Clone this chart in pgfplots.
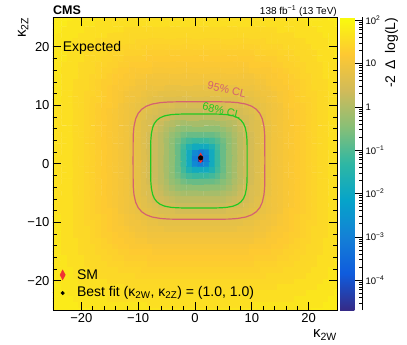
\documentclass[border=0pt]{standalone}
\usepackage{fontspec}
\setmainfont{Liberation Sans}
\usepackage{pgfplots}
\pgfplotsset{compat=1.18}
\definecolor{clred}{RGB}{212,98,112}
\definecolor{clgreen}{RGB}{34,200,34}
\definecolor{smred}{RGB}{240,50,50}
\pgfplotsset{colormap={bird}{rgb=(0.2082,0.1664,0.5293) rgb=(0.0592,0.3599,0.8684) rgb=(0.0780,0.5041,0.8385) rgb=(0.0232,0.6419,0.7914) rgb=(0.1802,0.7178,0.6425) rgb=(0.5301,0.7492,0.4662) rgb=(0.8186,0.7328,0.3499) rgb=(0.9956,0.7862,0.1968) rgb=(0.9764,0.9832,0.0539)}}
\begin{document}
\begin{tikzpicture}
\useasboundingbox (-53pt,-35pt) rectangle (354pt,310pt);
\begin{axis}[
  at={(0pt,0pt)}, anchor=south west,
  scale only axis, width=284pt, height=292.5pt,
  xmin=-25, xmax=25, ymin=-25, ymax=25,
  clip mode=individual,
  colormap name=bird,
  point meta min=-4.69, point meta max=2.06,
  xtick={-20,-10,0,10,20}, xticklabels={−20,−10,0,10,20},
  ytick={-20,-10,0,10,20}, yticklabels={−20,−10,0,10,20},
  minor x tick num=4, minor y tick num=4,
  tick align=inside, tick pos=both,
  xticklabel pos=lower, yticklabel pos=left,
  major tick length=8pt, minor tick length=4pt,
  every tick/.style={black, line width=0.6pt},
  axis line style={black, line width=0.8pt},
  tick label style={font=\fontsize{13}{13}\selectfont},
  axis on top,
  colorbar,
  colorbar style={
    at={(parent axis.north east)}, anchor=north west, xshift=-5.5pt,
    scale only axis, width=22pt, height=292.5pt,
    axis x line=none, axis y line*=right,
    ytick={-4,-3,-2,-1,0,1,2},
    yticklabels={10\textsuperscript{−4},10\textsuperscript{−3},10\textsuperscript{−2},10\textsuperscript{−1},1,10,10\textsuperscript{2}},
    minor ytick={-4.523,-4.398,-4.301,-4.222,-4.155,-4.097,-4.046,-3.699,-3.523,-3.398,-3.301,-3.222,-3.155,-3.097,-3.046,-2.699,-2.523,-2.398,-2.301,-2.222,-2.155,-2.097,-2.046,-1.699,-1.523,-1.398,-1.301,-1.222,-1.155,-1.097,-1.046,-0.699,-0.523,-0.398,-0.301,-0.222,-0.155,-0.097,-0.046,0.301,0.477,0.602,0.699,0.778,0.845,0.903,0.954,1.301,1.477,1.602,1.699,1.778,1.845,1.903,1.954},
    tick align=inside, major tick length=7pt, minor tick length=3.5pt,
    every tick/.style={black, line width=0.5pt},
    yticklabel style={font=\fontsize{9.5}{10}\selectfont},
    axis line style={black, line width=0.6pt},
  },
]
\addplot[matrix plot*, mesh/cols=51, point meta=explicit, shader=flat corner]
 table[row sep=\\, meta=c, x expr={mod(\coordindex,51)-25}, y expr={floor(\coordindex/51)-25}] {
c\\
1.8\\1.8\\1.8\\1.8\\1.8\\1.8\\1.8\\1.7\\1.7\\1.7\\ 1.7\\1.7\\1.7\\1.7\\1.7\\1.7\\1.7\\1.7\\1.7\\1.7\\ 1.7\\1.7\\1.7\\1.7\\1.7\\1.7\\1.7\\1.7\\1.7\\1.7\\ 1.7\\1.7\\1.7\\1.7\\1.7\\1.7\\1.7\\1.7\\1.7\\1.7\\ 1.7\\1.7\\1.7\\1.7\\1.7\\1.7\\1.8\\1.8\\1.8\\1.8\\ 1.8\\
1.8\\1.8\\1.8\\1.8\\1.8\\1.7\\1.7\\1.7\\1.7\\1.7\\ 1.7\\1.7\\1.7\\1.7\\1.7\\1.7\\1.7\\1.6\\1.6\\1.6\\ 1.6\\1.6\\1.6\\1.6\\1.6\\1.6\\1.6\\1.6\\1.6\\1.6\\ 1.6\\1.6\\1.6\\1.6\\1.6\\1.6\\1.7\\1.7\\1.7\\1.7\\ 1.7\\1.7\\1.7\\1.7\\1.7\\1.7\\1.7\\1.7\\1.8\\1.8\\ 1.8\\
1.8\\1.8\\1.8\\1.8\\1.7\\1.7\\1.7\\1.7\\1.7\\1.7\\ 1.6\\1.6\\1.6\\1.6\\1.6\\1.6\\1.6\\1.6\\1.6\\1.6\\ 1.6\\1.6\\1.6\\1.6\\1.6\\1.6\\1.6\\1.6\\1.6\\1.6\\ 1.6\\1.6\\1.6\\1.6\\1.6\\1.6\\1.6\\1.6\\1.6\\1.6\\ 1.6\\1.6\\1.6\\1.7\\1.7\\1.7\\1.7\\1.7\\1.7\\1.8\\ 1.8\\
1.8\\1.8\\1.8\\1.7\\1.7\\1.7\\1.7\\1.7\\1.6\\1.6\\ 1.6\\1.6\\1.6\\1.6\\1.6\\1.6\\1.6\\1.6\\1.6\\1.6\\ 1.6\\1.6\\1.6\\1.6\\1.6\\1.6\\1.6\\1.6\\1.6\\1.6\\ 1.6\\1.6\\1.6\\1.6\\1.6\\1.6\\1.6\\1.6\\1.6\\1.6\\ 1.6\\1.6\\1.6\\1.6\\1.6\\1.7\\1.7\\1.7\\1.7\\1.7\\ 1.8\\
1.8\\1.8\\1.7\\1.7\\1.7\\1.7\\1.6\\1.6\\1.6\\1.6\\ 1.6\\1.6\\1.6\\1.5\\1.5\\1.5\\1.5\\1.5\\1.5\\1.5\\ 1.5\\1.5\\1.5\\1.5\\1.5\\1.5\\1.5\\1.5\\1.5\\1.5\\ 1.5\\1.5\\1.5\\1.5\\1.5\\1.5\\1.5\\1.5\\1.5\\1.5\\ 1.6\\1.6\\1.6\\1.6\\1.6\\1.6\\1.6\\1.7\\1.7\\1.7\\ 1.7\\
1.8\\1.7\\1.7\\1.7\\1.7\\1.6\\1.6\\1.6\\1.6\\1.6\\ 1.5\\1.5\\1.5\\1.48\\1.48\\1.48\\1.48\\1.48\\1.48\\1.48\\ 1.48\\1.48\\1.48\\1.48\\1.48\\1.48\\1.48\\1.48\\1.48\\1.48\\ 1.48\\1.48\\1.48\\1.48\\1.48\\1.48\\1.48\\1.48\\1.48\\1.48\\ 1.5\\1.5\\1.5\\1.6\\1.6\\1.6\\1.6\\1.6\\1.7\\1.7\\ 1.7\\
1.8\\1.7\\1.7\\1.7\\1.6\\1.6\\1.6\\1.6\\1.5\\1.5\\ 1.48\\1.48\\1.48\\1.48\\1.48\\1.42\\1.42\\1.42\\1.42\\1.42\\ 1.42\\1.42\\1.42\\1.42\\1.42\\1.42\\1.42\\1.42\\1.42\\1.42\\ 1.42\\1.42\\1.42\\1.42\\1.42\\1.42\\1.42\\1.42\\1.48\\1.48\\ 1.48\\1.48\\1.48\\1.5\\1.5\\1.6\\1.6\\1.6\\1.6\\1.7\\ 1.7\\
1.7\\1.7\\1.7\\1.7\\1.6\\1.6\\1.6\\1.5\\1.5\\1.48\\ 1.48\\1.48\\1.42\\1.42\\1.42\\1.42\\1.37\\1.37\\1.37\\1.37\\ 1.37\\1.37\\1.37\\1.37\\1.37\\1.37\\1.37\\1.37\\1.37\\1.37\\ 1.37\\1.37\\1.37\\1.37\\1.37\\1.37\\1.37\\1.42\\1.42\\1.42\\ 1.42\\1.48\\1.48\\1.48\\1.5\\1.5\\1.6\\1.6\\1.6\\1.7\\ 1.7\\
1.7\\1.7\\1.7\\1.6\\1.6\\1.6\\1.5\\1.5\\1.48\\1.48\\ 1.42\\1.42\\1.42\\1.37\\1.37\\1.37\\1.37\\1.3\\1.3\\1.3\\ 1.3\\1.3\\1.3\\1.3\\1.3\\1.3\\1.3\\1.3\\1.3\\1.3\\ 1.3\\1.3\\1.3\\1.3\\1.3\\1.3\\1.37\\1.37\\1.37\\1.37\\ 1.42\\1.42\\1.42\\1.48\\1.48\\1.5\\1.5\\1.6\\1.6\\1.6\\ 1.7\\
1.7\\1.7\\1.7\\1.6\\1.6\\1.6\\1.5\\1.48\\1.48\\1.42\\ 1.42\\1.37\\1.37\\1.3\\1.3\\1.3\\1.3\\1.24\\1.24\\1.24\\ 1.24\\1.24\\1.24\\1.24\\1.24\\1.24\\1.24\\1.24\\1.24\\1.24\\ 1.24\\1.24\\1.24\\1.24\\1.24\\1.24\\1.3\\1.3\\1.3\\1.3\\ 1.37\\1.37\\1.42\\1.42\\1.48\\1.48\\1.5\\1.6\\1.6\\1.6\\ 1.7\\
1.7\\1.7\\1.6\\1.6\\1.6\\1.5\\1.48\\1.48\\1.42\\1.42\\ 1.37\\1.37\\1.3\\1.3\\1.24\\1.24\\1.24\\1.24\\1.17\\1.17\\ 1.17\\1.17\\1.17\\1.17\\1.17\\1.17\\1.17\\1.17\\1.17\\1.17\\ 1.17\\1.17\\1.17\\1.17\\1.17\\1.24\\1.24\\1.24\\1.24\\1.3\\ 1.3\\1.37\\1.37\\1.42\\1.42\\1.48\\1.48\\1.5\\1.6\\1.6\\ 1.6\\
1.7\\1.7\\1.6\\1.6\\1.6\\1.5\\1.48\\1.48\\1.42\\1.37\\ 1.37\\1.3\\1.24\\1.24\\1.17\\1.17\\1.17\\1.17\\1.11\\1.11\\ 1.11\\1.11\\1.11\\1.11\\1.11\\1.11\\1.11\\1.11\\1.11\\1.11\\ 1.11\\1.11\\1.11\\1.11\\1.11\\1.17\\1.17\\1.17\\1.17\\1.24\\ 1.24\\1.3\\1.37\\1.37\\1.42\\1.48\\1.48\\1.5\\1.6\\1.6\\ 1.6\\
1.7\\1.7\\1.6\\1.6\\1.6\\1.5\\1.48\\1.42\\1.42\\1.37\\ 1.3\\1.24\\1.24\\1.17\\1.17\\1.11\\1.11\\1.03\\1.03\\1.03\\ 1.03\\1.03\\1.03\\1.03\\1.03\\1.03\\1.03\\1.03\\1.03\\1.03\\ 1.03\\1.03\\1.03\\1.03\\1.03\\1.03\\1.11\\1.11\\1.17\\1.17\\ 1.24\\1.24\\1.3\\1.37\\1.42\\1.42\\1.48\\1.5\\1.6\\1.6\\ 1.6\\
1.7\\1.7\\1.6\\1.6\\1.5\\1.48\\1.48\\1.42\\1.37\\1.3\\ 1.3\\1.24\\1.17\\1.17\\1.11\\1.03\\1.03\\0.97\\0.97\\0.97\\ 0.97\\0.97\\0.97\\0.97\\0.97\\0.97\\0.97\\0.97\\0.97\\0.97\\ 0.97\\0.97\\0.97\\0.97\\0.97\\0.97\\1.03\\1.03\\1.11\\1.17\\ 1.17\\1.24\\1.3\\1.3\\1.37\\1.42\\1.48\\1.48\\1.5\\1.6\\ 1.6\\
1.7\\1.7\\1.6\\1.6\\1.5\\1.48\\1.48\\1.42\\1.37\\1.3\\ 1.24\\1.17\\1.17\\1.11\\1.03\\0.97\\0.97\\0.9\\0.9\\0.9\\ 0.83\\0.83\\0.83\\0.83\\0.83\\0.83\\0.83\\0.83\\0.83\\0.83\\ 0.83\\0.83\\0.83\\0.9\\0.9\\0.9\\0.97\\0.97\\1.03\\1.11\\ 1.17\\1.17\\1.24\\1.3\\1.37\\1.42\\1.48\\1.48\\1.5\\1.6\\ 1.6\\
1.7\\1.7\\1.6\\1.6\\1.5\\1.48\\1.42\\1.42\\1.37\\1.3\\ 1.24\\1.17\\1.11\\1.03\\0.97\\0.97\\0.9\\0.83\\0.83\\0.76\\ 0.76\\0.76\\0.76\\0.76\\0.76\\0.76\\0.76\\0.76\\0.76\\0.76\\ 0.76\\0.76\\0.76\\0.76\\0.83\\0.83\\0.9\\0.97\\0.97\\1.03\\ 1.11\\1.17\\1.24\\1.3\\1.37\\1.42\\1.42\\1.48\\1.5\\1.6\\ 1.6\\
1.7\\1.7\\1.6\\1.6\\1.5\\1.48\\1.42\\1.37\\1.37\\1.3\\ 1.24\\1.17\\1.11\\1.03\\0.97\\0.9\\0.83\\0.76\\0.69\\0.69\\ 0.62\\0.62\\0.62\\0.62\\0.62\\0.62\\0.62\\0.62\\0.62\\0.62\\ 0.62\\0.62\\0.62\\0.69\\0.69\\0.76\\0.83\\0.9\\0.97\\1.03\\ 1.11\\1.17\\1.24\\1.3\\1.37\\1.37\\1.42\\1.48\\1.5\\1.6\\ 1.6\\
1.7\\1.6\\1.6\\1.6\\1.5\\1.48\\1.42\\1.37\\1.3\\1.24\\ 1.24\\1.17\\1.03\\0.97\\0.9\\0.83\\0.76\\0.69\\0.62\\0.54\\ 0.54\\0.54\\0.46\\0.46\\0.46\\0.46\\0.46\\0.46\\0.46\\0.46\\ 0.46\\0.54\\0.54\\0.54\\0.62\\0.69\\0.76\\0.83\\0.9\\0.97\\ 1.03\\1.17\\1.24\\1.24\\1.3\\1.37\\1.42\\1.48\\1.5\\1.6\\ 1.6\\
1.7\\1.6\\1.6\\1.6\\1.5\\1.48\\1.42\\1.37\\1.3\\1.24\\ 1.17\\1.11\\1.03\\0.97\\0.9\\0.83\\0.69\\0.62\\0.54\\0.46\\ 0.39\\0.39\\0.31\\0.31\\0.31\\0.31\\0.31\\0.31\\0.31\\0.31\\ 0.31\\0.39\\0.39\\0.46\\0.54\\0.62\\0.69\\0.83\\0.9\\0.97\\ 1.03\\1.11\\1.17\\1.24\\1.3\\1.37\\1.42\\1.48\\1.5\\1.6\\ 1.6\\
1.7\\1.6\\1.6\\1.6\\1.5\\1.48\\1.42\\1.37\\1.3\\1.24\\ 1.17\\1.11\\1.03\\0.97\\0.9\\0.76\\0.69\\0.54\\0.46\\0.39\\ 0.31\\0.23\\0.14\\0.14\\0.14\\0.14\\0.14\\0.14\\0.14\\0.14\\ 0.14\\0.23\\0.31\\0.39\\0.46\\0.54\\0.69\\0.76\\0.9\\0.97\\ 1.03\\1.11\\1.17\\1.24\\1.3\\1.37\\1.42\\1.48\\1.5\\1.6\\ 1.6\\
1.7\\1.6\\1.6\\1.6\\1.5\\1.48\\1.42\\1.37\\1.3\\1.24\\ 1.17\\1.11\\1.03\\0.97\\0.83\\0.76\\0.62\\0.54\\0.39\\0.31\\ 0.14\\0.06\\-0.03\\-0.11\\-0.11\\-0.11\\-0.11\\-0.11\\-0.11\\-0.11\\ -0.03\\0.06\\0.14\\0.31\\0.39\\0.54\\0.62\\0.76\\0.83\\0.97\\ 1.03\\1.11\\1.17\\1.24\\1.3\\1.37\\1.42\\1.48\\1.5\\1.6\\ 1.6\\
1.7\\1.6\\1.6\\1.6\\1.5\\1.48\\1.42\\1.37\\1.3\\1.24\\ 1.17\\1.11\\1.03\\0.97\\0.83\\0.76\\0.62\\0.54\\0.39\\0.23\\ 0.06\\-0.11\\-0.29\\-0.38\\-0.38\\-0.38\\-0.38\\-0.38\\-0.38\\-0.38\\ -0.29\\-0.11\\0.06\\0.23\\0.39\\0.54\\0.62\\0.76\\0.83\\0.97\\ 1.03\\1.11\\1.17\\1.24\\1.3\\1.37\\1.42\\1.48\\1.5\\1.6\\ 1.6\\
1.7\\1.6\\1.6\\1.6\\1.5\\1.48\\1.42\\1.37\\1.3\\1.24\\ 1.17\\1.11\\1.03\\0.97\\0.83\\0.76\\0.62\\0.46\\0.31\\0.14\\ -0.03\\-0.29\\-0.47\\-0.65\\-0.75\\-0.75\\-0.75\\-0.75\\-0.75\\-0.65\\ -0.47\\-0.29\\-0.03\\0.14\\0.31\\0.46\\0.62\\0.76\\0.83\\0.97\\ 1.03\\1.11\\1.17\\1.24\\1.3\\1.37\\1.42\\1.48\\1.5\\1.6\\ 1.6\\
1.7\\1.6\\1.6\\1.6\\1.5\\1.48\\1.42\\1.37\\1.3\\1.24\\ 1.17\\1.11\\1.03\\0.97\\0.83\\0.76\\0.62\\0.46\\0.31\\0.14\\ -0.11\\-0.38\\-0.65\\-0.93\\-1.12\\-1.22\\-1.22\\-1.22\\-1.12\\-0.93\\ -0.65\\-0.38\\-0.11\\0.14\\0.31\\0.46\\0.62\\0.76\\0.83\\0.97\\ 1.03\\1.11\\1.17\\1.24\\1.3\\1.37\\1.42\\1.48\\1.5\\1.6\\ 1.6\\
1.7\\1.6\\1.6\\1.6\\1.5\\1.48\\1.42\\1.37\\1.3\\1.24\\ 1.17\\1.11\\1.03\\0.97\\0.83\\0.76\\0.62\\0.46\\0.31\\0.14\\ -0.11\\-0.38\\-0.75\\-1.12\\-1.61\\-1.9\\-1.9\\-1.9\\-1.61\\-1.12\\ -0.75\\-0.38\\-0.11\\0.14\\0.31\\0.46\\0.62\\0.76\\0.83\\0.97\\ 1.03\\1.11\\1.17\\1.24\\1.3\\1.37\\1.42\\1.48\\1.5\\1.6\\ 1.6\\
1.7\\1.6\\1.6\\1.6\\1.5\\1.48\\1.42\\1.37\\1.3\\1.24\\ 1.17\\1.11\\1.03\\0.97\\0.83\\0.76\\0.62\\0.46\\0.31\\0.14\\ -0.11\\-0.38\\-0.75\\-1.22\\-1.9\\-2.79\\-3.09\\-2.79\\-1.9\\-1.22\\ -0.75\\-0.38\\-0.11\\0.14\\0.31\\0.46\\0.62\\0.76\\0.83\\0.97\\ 1.03\\1.11\\1.17\\1.24\\1.3\\1.37\\1.42\\1.48\\1.5\\1.6\\ 1.6\\
1.7\\1.6\\1.6\\1.6\\1.5\\1.48\\1.42\\1.37\\1.3\\1.24\\ 1.17\\1.11\\1.03\\0.97\\0.83\\0.76\\0.62\\0.46\\0.31\\0.14\\ -0.11\\-0.38\\-0.75\\-1.22\\-1.9\\-3.09\\-4.6\\-3.09\\-1.9\\-1.22\\ -0.75\\-0.38\\-0.11\\0.14\\0.31\\0.46\\0.62\\0.76\\0.83\\0.97\\ 1.03\\1.11\\1.17\\1.24\\1.3\\1.37\\1.42\\1.48\\1.5\\1.6\\ 1.6\\
1.7\\1.6\\1.6\\1.6\\1.5\\1.48\\1.42\\1.37\\1.3\\1.24\\ 1.17\\1.11\\1.03\\0.97\\0.83\\0.76\\0.62\\0.46\\0.31\\0.14\\ -0.11\\-0.38\\-0.75\\-1.22\\-1.9\\-2.79\\-3.09\\-2.79\\-1.9\\-1.22\\ -0.75\\-0.38\\-0.11\\0.14\\0.31\\0.46\\0.62\\0.76\\0.83\\0.97\\ 1.03\\1.11\\1.17\\1.24\\1.3\\1.37\\1.42\\1.48\\1.5\\1.6\\ 1.6\\
1.7\\1.6\\1.6\\1.6\\1.5\\1.48\\1.42\\1.37\\1.3\\1.24\\ 1.17\\1.11\\1.03\\0.97\\0.83\\0.76\\0.62\\0.46\\0.31\\0.14\\ -0.11\\-0.38\\-0.75\\-1.12\\-1.61\\-1.9\\-1.9\\-1.9\\-1.61\\-1.12\\ -0.75\\-0.38\\-0.11\\0.14\\0.31\\0.46\\0.62\\0.76\\0.83\\0.97\\ 1.03\\1.11\\1.17\\1.24\\1.3\\1.37\\1.42\\1.48\\1.5\\1.6\\ 1.6\\
1.7\\1.6\\1.6\\1.6\\1.5\\1.48\\1.42\\1.37\\1.3\\1.24\\ 1.17\\1.11\\1.03\\0.97\\0.83\\0.76\\0.62\\0.46\\0.31\\0.14\\ -0.11\\-0.38\\-0.65\\-0.93\\-1.12\\-1.22\\-1.22\\-1.22\\-1.12\\-0.93\\ -0.65\\-0.38\\-0.11\\0.14\\0.31\\0.46\\0.62\\0.76\\0.83\\0.97\\ 1.03\\1.11\\1.17\\1.24\\1.3\\1.37\\1.42\\1.48\\1.5\\1.6\\ 1.6\\
1.7\\1.6\\1.6\\1.6\\1.5\\1.48\\1.42\\1.37\\1.3\\1.24\\ 1.17\\1.11\\1.03\\0.97\\0.83\\0.76\\0.62\\0.46\\0.31\\0.14\\ -0.03\\-0.29\\-0.47\\-0.65\\-0.75\\-0.75\\-0.75\\-0.75\\-0.75\\-0.65\\ -0.47\\-0.29\\-0.03\\0.14\\0.31\\0.46\\0.62\\0.76\\0.83\\0.97\\ 1.03\\1.11\\1.17\\1.24\\1.3\\1.37\\1.42\\1.48\\1.5\\1.6\\ 1.6\\
1.7\\1.6\\1.6\\1.6\\1.5\\1.48\\1.42\\1.37\\1.3\\1.24\\ 1.17\\1.11\\1.03\\0.97\\0.83\\0.76\\0.62\\0.54\\0.39\\0.23\\ 0.06\\-0.11\\-0.29\\-0.38\\-0.38\\-0.38\\-0.38\\-0.38\\-0.38\\-0.38\\ -0.29\\-0.11\\0.06\\0.23\\0.39\\0.54\\0.62\\0.76\\0.83\\0.97\\ 1.03\\1.11\\1.17\\1.24\\1.3\\1.37\\1.42\\1.48\\1.5\\1.6\\ 1.6\\
1.7\\1.6\\1.6\\1.6\\1.5\\1.48\\1.42\\1.37\\1.3\\1.24\\ 1.17\\1.11\\1.03\\0.97\\0.83\\0.76\\0.62\\0.54\\0.39\\0.31\\ 0.14\\0.06\\-0.03\\-0.11\\-0.11\\-0.11\\-0.11\\-0.11\\-0.11\\-0.11\\ -0.03\\0.06\\0.14\\0.31\\0.39\\0.54\\0.62\\0.76\\0.83\\0.97\\ 1.03\\1.11\\1.17\\1.24\\1.3\\1.37\\1.42\\1.48\\1.5\\1.6\\ 1.6\\
1.7\\1.6\\1.6\\1.6\\1.5\\1.48\\1.42\\1.37\\1.3\\1.24\\ 1.17\\1.11\\1.03\\0.97\\0.9\\0.76\\0.69\\0.54\\0.46\\0.39\\ 0.31\\0.23\\0.14\\0.14\\0.14\\0.14\\0.14\\0.14\\0.14\\0.14\\ 0.14\\0.23\\0.31\\0.39\\0.46\\0.54\\0.69\\0.76\\0.9\\0.97\\ 1.03\\1.11\\1.17\\1.24\\1.3\\1.37\\1.42\\1.48\\1.5\\1.6\\ 1.6\\
1.7\\1.6\\1.6\\1.6\\1.5\\1.48\\1.42\\1.37\\1.3\\1.24\\ 1.17\\1.11\\1.03\\0.97\\0.9\\0.83\\0.69\\0.62\\0.54\\0.46\\ 0.39\\0.39\\0.31\\0.31\\0.31\\0.31\\0.31\\0.31\\0.31\\0.31\\ 0.31\\0.39\\0.39\\0.46\\0.54\\0.62\\0.69\\0.83\\0.9\\0.97\\ 1.03\\1.11\\1.17\\1.24\\1.3\\1.37\\1.42\\1.48\\1.5\\1.6\\ 1.6\\
1.7\\1.6\\1.6\\1.6\\1.5\\1.48\\1.42\\1.37\\1.3\\1.24\\ 1.24\\1.17\\1.03\\0.97\\0.9\\0.83\\0.76\\0.69\\0.62\\0.54\\ 0.54\\0.54\\0.46\\0.46\\0.46\\0.46\\0.46\\0.46\\0.46\\0.46\\ 0.46\\0.54\\0.54\\0.54\\0.62\\0.69\\0.76\\0.83\\0.9\\0.97\\ 1.03\\1.17\\1.24\\1.24\\1.3\\1.37\\1.42\\1.48\\1.5\\1.6\\ 1.6\\
1.7\\1.7\\1.6\\1.6\\1.5\\1.48\\1.42\\1.37\\1.37\\1.3\\ 1.24\\1.17\\1.11\\1.03\\0.97\\0.9\\0.83\\0.76\\0.69\\0.69\\ 0.62\\0.62\\0.62\\0.62\\0.62\\0.62\\0.62\\0.62\\0.62\\0.62\\ 0.62\\0.62\\0.62\\0.69\\0.69\\0.76\\0.83\\0.9\\0.97\\1.03\\ 1.11\\1.17\\1.24\\1.3\\1.37\\1.37\\1.42\\1.48\\1.5\\1.6\\ 1.6\\
1.7\\1.7\\1.6\\1.6\\1.5\\1.48\\1.42\\1.42\\1.37\\1.3\\ 1.24\\1.17\\1.11\\1.03\\0.97\\0.97\\0.9\\0.83\\0.83\\0.76\\ 0.76\\0.76\\0.76\\0.76\\0.76\\0.76\\0.76\\0.76\\0.76\\0.76\\ 0.76\\0.76\\0.76\\0.76\\0.83\\0.83\\0.9\\0.97\\0.97\\1.03\\ 1.11\\1.17\\1.24\\1.3\\1.37\\1.42\\1.42\\1.48\\1.5\\1.6\\ 1.6\\
1.7\\1.7\\1.6\\1.6\\1.5\\1.48\\1.48\\1.42\\1.37\\1.3\\ 1.24\\1.17\\1.17\\1.11\\1.03\\0.97\\0.97\\0.9\\0.9\\0.9\\ 0.83\\0.83\\0.83\\0.83\\0.83\\0.83\\0.83\\0.83\\0.83\\0.83\\ 0.83\\0.83\\0.83\\0.9\\0.9\\0.9\\0.97\\0.97\\1.03\\1.11\\ 1.17\\1.17\\1.24\\1.3\\1.37\\1.42\\1.48\\1.48\\1.5\\1.6\\ 1.6\\
1.7\\1.7\\1.6\\1.6\\1.5\\1.48\\1.48\\1.42\\1.37\\1.3\\ 1.3\\1.24\\1.17\\1.17\\1.11\\1.03\\1.03\\0.97\\0.97\\0.97\\ 0.97\\0.97\\0.97\\0.97\\0.97\\0.97\\0.97\\0.97\\0.97\\0.97\\ 0.97\\0.97\\0.97\\0.97\\0.97\\0.97\\1.03\\1.03\\1.11\\1.17\\ 1.17\\1.24\\1.3\\1.3\\1.37\\1.42\\1.48\\1.48\\1.5\\1.6\\ 1.6\\
1.7\\1.7\\1.6\\1.6\\1.6\\1.5\\1.48\\1.42\\1.42\\1.37\\ 1.3\\1.24\\1.24\\1.17\\1.17\\1.11\\1.11\\1.03\\1.03\\1.03\\ 1.03\\1.03\\1.03\\1.03\\1.03\\1.03\\1.03\\1.03\\1.03\\1.03\\ 1.03\\1.03\\1.03\\1.03\\1.03\\1.03\\1.11\\1.11\\1.17\\1.17\\ 1.24\\1.24\\1.3\\1.37\\1.42\\1.42\\1.48\\1.5\\1.6\\1.6\\ 1.6\\
1.7\\1.7\\1.6\\1.6\\1.6\\1.5\\1.48\\1.48\\1.42\\1.37\\ 1.37\\1.3\\1.24\\1.24\\1.17\\1.17\\1.17\\1.17\\1.11\\1.11\\ 1.11\\1.11\\1.11\\1.11\\1.11\\1.11\\1.11\\1.11\\1.11\\1.11\\ 1.11\\1.11\\1.11\\1.11\\1.11\\1.17\\1.17\\1.17\\1.17\\1.24\\ 1.24\\1.3\\1.37\\1.37\\1.42\\1.48\\1.48\\1.5\\1.6\\1.6\\ 1.6\\
1.7\\1.7\\1.6\\1.6\\1.6\\1.5\\1.48\\1.48\\1.42\\1.42\\ 1.37\\1.37\\1.3\\1.3\\1.24\\1.24\\1.24\\1.24\\1.17\\1.17\\ 1.17\\1.17\\1.17\\1.17\\1.17\\1.17\\1.17\\1.17\\1.17\\1.17\\ 1.17\\1.17\\1.17\\1.17\\1.17\\1.24\\1.24\\1.24\\1.24\\1.3\\ 1.3\\1.37\\1.37\\1.42\\1.42\\1.48\\1.48\\1.5\\1.6\\1.6\\ 1.6\\
1.7\\1.7\\1.7\\1.6\\1.6\\1.6\\1.5\\1.48\\1.48\\1.42\\ 1.42\\1.37\\1.37\\1.3\\1.3\\1.3\\1.3\\1.24\\1.24\\1.24\\ 1.24\\1.24\\1.24\\1.24\\1.24\\1.24\\1.24\\1.24\\1.24\\1.24\\ 1.24\\1.24\\1.24\\1.24\\1.24\\1.24\\1.3\\1.3\\1.3\\1.3\\ 1.37\\1.37\\1.42\\1.42\\1.48\\1.48\\1.5\\1.6\\1.6\\1.6\\ 1.7\\
1.7\\1.7\\1.7\\1.6\\1.6\\1.6\\1.5\\1.5\\1.48\\1.48\\ 1.42\\1.42\\1.42\\1.37\\1.37\\1.37\\1.37\\1.3\\1.3\\1.3\\ 1.3\\1.3\\1.3\\1.3\\1.3\\1.3\\1.3\\1.3\\1.3\\1.3\\ 1.3\\1.3\\1.3\\1.3\\1.3\\1.3\\1.37\\1.37\\1.37\\1.37\\ 1.42\\1.42\\1.42\\1.48\\1.48\\1.5\\1.5\\1.6\\1.6\\1.6\\ 1.7\\
1.7\\1.7\\1.7\\1.7\\1.6\\1.6\\1.6\\1.5\\1.5\\1.48\\ 1.48\\1.48\\1.42\\1.42\\1.42\\1.42\\1.37\\1.37\\1.37\\1.37\\ 1.37\\1.37\\1.37\\1.37\\1.37\\1.37\\1.37\\1.37\\1.37\\1.37\\ 1.37\\1.37\\1.37\\1.37\\1.37\\1.37\\1.37\\1.42\\1.42\\1.42\\ 1.42\\1.48\\1.48\\1.48\\1.5\\1.5\\1.6\\1.6\\1.6\\1.7\\ 1.7\\
1.8\\1.7\\1.7\\1.7\\1.6\\1.6\\1.6\\1.6\\1.5\\1.5\\ 1.48\\1.48\\1.48\\1.48\\1.48\\1.42\\1.42\\1.42\\1.42\\1.42\\ 1.42\\1.42\\1.42\\1.42\\1.42\\1.42\\1.42\\1.42\\1.42\\1.42\\ 1.42\\1.42\\1.42\\1.42\\1.42\\1.42\\1.42\\1.42\\1.48\\1.48\\ 1.48\\1.48\\1.48\\1.5\\1.5\\1.6\\1.6\\1.6\\1.6\\1.7\\ 1.7\\
1.8\\1.7\\1.7\\1.7\\1.7\\1.6\\1.6\\1.6\\1.6\\1.6\\ 1.5\\1.5\\1.5\\1.48\\1.48\\1.48\\1.48\\1.48\\1.48\\1.48\\ 1.48\\1.48\\1.48\\1.48\\1.48\\1.48\\1.48\\1.48\\1.48\\1.48\\ 1.48\\1.48\\1.48\\1.48\\1.48\\1.48\\1.48\\1.48\\1.48\\1.48\\ 1.5\\1.5\\1.5\\1.6\\1.6\\1.6\\1.6\\1.6\\1.7\\1.7\\ 1.7\\
1.8\\1.8\\1.7\\1.7\\1.7\\1.7\\1.6\\1.6\\1.6\\1.6\\ 1.6\\1.6\\1.6\\1.5\\1.5\\1.5\\1.5\\1.5\\1.5\\1.5\\ 1.5\\1.5\\1.5\\1.5\\1.5\\1.5\\1.5\\1.5\\1.5\\1.5\\ 1.5\\1.5\\1.5\\1.5\\1.5\\1.5\\1.5\\1.5\\1.5\\1.5\\ 1.6\\1.6\\1.6\\1.6\\1.6\\1.6\\1.6\\1.7\\1.7\\1.7\\ 1.7\\
1.8\\1.8\\1.8\\1.7\\1.7\\1.7\\1.7\\1.7\\1.6\\1.6\\ 1.6\\1.6\\1.6\\1.6\\1.6\\1.6\\1.6\\1.6\\1.6\\1.6\\ 1.6\\1.6\\1.6\\1.6\\1.6\\1.6\\1.6\\1.6\\1.6\\1.6\\ 1.6\\1.6\\1.6\\1.6\\1.6\\1.6\\1.6\\1.6\\1.6\\1.6\\ 1.6\\1.6\\1.6\\1.6\\1.6\\1.7\\1.7\\1.7\\1.7\\1.7\\ 1.8\\
1.8\\1.8\\1.8\\1.8\\1.7\\1.7\\1.7\\1.7\\1.7\\1.7\\ 1.6\\1.6\\1.6\\1.6\\1.6\\1.6\\1.6\\1.6\\1.6\\1.6\\ 1.6\\1.6\\1.6\\1.6\\1.6\\1.6\\1.6\\1.6\\1.6\\1.6\\ 1.6\\1.6\\1.6\\1.6\\1.6\\1.6\\1.6\\1.6\\1.6\\1.6\\ 1.6\\1.6\\1.6\\1.7\\1.7\\1.7\\1.7\\1.7\\1.7\\1.8\\ 1.8\\
};
\addplot[clred, line width=1.2pt, line join=round] coordinates {(12.30,0.55) (12.29,3.64) (12.26,5.11) (12.14,6.40) (11.85,7.67) (11.41,8.60) (10.80,9.30) (9.99,9.83) (8.92,10.21) (7.45,10.46) (5.97,10.56) (4.26,10.59) (0.70,10.60) (-2.86,10.59) (-4.57,10.56) (-6.05,10.46) (-7.52,10.21) (-8.59,9.83) (-9.40,9.30) (-10.01,8.60) (-10.45,7.67) (-10.74,6.40) (-10.86,5.11) (-10.89,3.64) (-10.90,0.55) (-10.89,-2.54) (-10.86,-4.01) (-10.74,-5.30) (-10.45,-6.57) (-10.01,-7.50) (-9.40,-8.20) (-8.59,-8.73) (-7.52,-9.11) (-6.05,-9.36) (-4.57,-9.46) (-2.86,-9.49) (0.70,-9.50) (4.26,-9.49) (5.97,-9.46) (7.45,-9.36) (8.92,-9.11) (9.99,-8.73) (10.80,-8.20) (11.41,-7.50) (11.85,-6.57) (12.14,-5.30) (12.26,-4.01) (12.29,-2.54) (12.30,0.55)};
\addplot[clgreen, line width=1.2pt, line join=round] coordinates {(9.18,0.47) (9.18,2.94) (9.15,4.12) (9.06,5.14) (8.85,6.16) (8.53,6.90) (8.08,7.46) (7.49,7.88) (6.71,8.19) (5.63,8.39) (4.54,8.47) (3.30,8.50) (0.69,8.50) (-1.92,8.50) (-3.16,8.47) (-4.25,8.39) (-5.33,8.19) (-6.11,7.88) (-6.70,7.46) (-7.15,6.90) (-7.47,6.16) (-7.68,5.14) (-7.77,4.12) (-7.80,2.94) (-7.80,0.47) (-7.80,-2.00) (-7.77,-3.18) (-7.68,-4.20) (-7.47,-5.22) (-7.15,-5.96) (-6.70,-6.52) (-6.11,-6.94) (-5.33,-7.25) (-4.25,-7.45) (-3.16,-7.53) (-1.92,-7.56) (0.69,-7.56) (3.30,-7.56) (4.54,-7.53) (5.63,-7.45) (6.71,-7.25) (7.49,-6.94) (8.08,-6.52) (8.53,-5.96) (8.85,-5.22) (9.06,-4.20) (9.15,-3.18) (9.18,-2.00) (9.18,0.47)};
\addplot[only marks, mark=diamond*, mark size=5pt, color=smred, mark options={xscale=0.7}] coordinates {(1,1) (-23.3,-19.0)};
\addplot[only marks, mark=*, mark size=2.3pt, black] coordinates {(1,1)};
\addplot[only marks, mark=*, mark size=1.8pt, black] coordinates {(-23.3,-22.1)};
\node[anchor=west, inner sep=0pt, font=\fontsize{14}{14}\selectfont] at (axis cs:-23.3,19.8) {Expected};
\node[anchor=west, inner sep=0pt, font=\fontsize{14}{14}\selectfont] at (axis cs:-20.8,-19.0) {SM};
\node[anchor=west, inner sep=0pt, font=\fontsize{14}{14}\selectfont] at (axis cs:-20.8,-22.1) {Best fit (κ\textsubscript{2W}, κ\textsubscript{2Z}) = (1.0, 1.0)};
\node[rotate=-13, text=clred, inner sep=0pt, font=\fontsize{11}{11}\selectfont] at (axis cs:5.6,12.7) {95\% CL};
\node[rotate=-13, text=clgreen, inner sep=0pt, font=\fontsize{11}{11}\selectfont] at (axis cs:4.7,9.1) {68\% CL};
\node[anchor=base west, inner sep=0pt, font=\fontsize{12.5}{13}\bfseries\selectfont] at ([yshift=3pt]rel axis cs:0,1) {CMS};
\node[anchor=base east, inner sep=0pt, font=\fontsize{10}{10}\selectfont] at ([yshift=3pt]rel axis cs:1,1) {138 fb\textsuperscript{−1} (13 TeV)};
\node[anchor=base east, inner sep=0pt, font=\fontsize{15}{15}\selectfont] at ([yshift=-28pt]rel axis cs:1,0) {κ\textsubscript{2W}};
\node[rotate=90, anchor=base east, inner sep=0pt, font=\fontsize{15}{15}\selectfont] at ([xshift=-27pt]rel axis cs:0,1) {κ\textsubscript{2Z}};
\node[rotate=90, anchor=base east, inner sep=0pt, font=\fontsize{14}{14}\selectfont] at ([xshift=58pt]rel axis cs:1,1) {-2\;\,Δ\;\,log(L)};
\end{axis}
\end{tikzpicture}
\end{document}
